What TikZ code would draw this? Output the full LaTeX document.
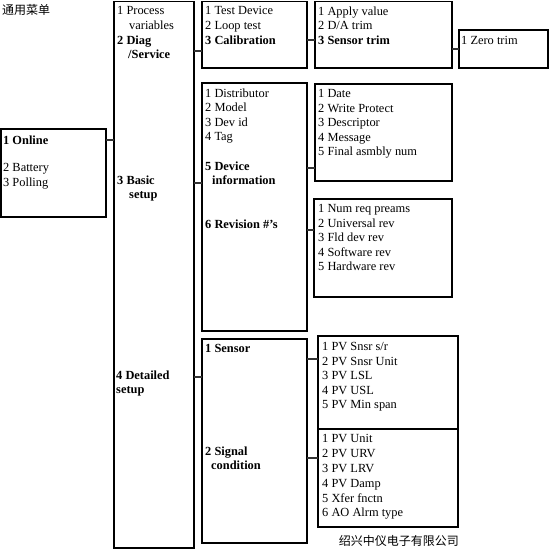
\documentclass[tikz,border=0pt]{standalone}
\usepackage{fontspec}
\setmainfont{Liberation Serif}
\newfontfamily\cjk{Noto Sans CJK SC}
\usetikzlibrary{positioning}
\tikzset{
  menubox/.style={draw=black, line width=1.9pt, anchor=north west,
                  inner sep=0pt, outer sep=0pt},
  item/.style={anchor=north west, inner sep=0pt, align=left,
               font=\fontsize{12.4}{14.5}\selectfont},
  bitem/.style={item, font=\fontsize{12.4}{14.5}\selectfont\bfseries},
  cjktxt/.style={inner sep=0pt, font=\cjk\fontsize{12}{14}\selectfont},
  link/.style={line width=2pt, black!80},
}

\begin{document}
\begin{tikzpicture}[x=1pt, y=-1pt]
    \useasboundingbox (0,0) rectangle (549,550);

    \node[cjktxt, anchor=west] (title) at (2,10) {通用菜单};
    \node[cjktxt, anchor=east] (firm) at (459,541) {绍兴中仪电子有限公司};

    % boxes
    \node[menubox, minimum width=105pt, minimum height=88pt] (onlinebox) at (0.9,129) {};
    \node[menubox, minimum width=80pt, minimum height=546.5pt] (colbox) at (114,1.5) {};
    \node[menubox, minimum width=105pt, minimum height=66.5pt] (testbox) at (202,1.5) {};
    \node[menubox, minimum width=137pt, minimum height=66.5pt] (applybox) at (315,1.5) {};
    \node[menubox, minimum width=89pt, minimum height=38pt] (zerobox) at (459,30) {};
    \node[menubox, minimum width=105pt, minimum height=248pt] (distbox) at (202,83) {};
    \node[menubox, minimum width=137pt, minimum height=97pt] (datebox) at (315,84) {};
    \node[menubox, minimum width=138pt, minimum height=98pt] (revbox) at (314,199) {};
    \node[menubox, minimum width=105pt, minimum height=204pt] (sensbox) at (202,339) {};
    \node[menubox, minimum width=140pt, minimum height=93pt] (snsrbox) at (318,336) {};
    \node[menubox, minimum width=140pt, minimum height=98pt] (unitbox) at (318,429) {};

    % texts
    \node[bitem] (onl) at (3,135.5) {1 Online};
    \node[item] (batt) at (3,163.5) {2 Battery\\3 Polling};

    \node[item] (pv) at (117,6.5) {1 Process\\\hspace*{12pt}variables};
    \node[bitem] (diag) at (117,35.5) {2 Diag\\\hspace*{11pt}/Service};
    \node[bitem] (basic) at (117,175.5) {3 Basic\\\hspace*{12pt}setup};
    \node[bitem] (detail) at (116,370.5) {4 Detailed\\setup};

    \node[item] (tst) at (205,6.5) {1 Test Device\\2 Loop test};
    \node[bitem] (calib) at (205,35.5) {3 Calibration};
    \node[item] (apv) at (318,6.5) {1 Apply value\\2 D/A trim};
    \node[bitem] (strim) at (318,35.5) {3 Sensor trim};
    \node[item] (zero) at (461,36.5) {1 Zero trim};

    \node[item] (dstr) at (205,88.5) {1 Distributor\\2 Model\\3 Dev id\\4 Tag};
    \node[bitem] (devinfo) at (205,161.5) {5 Device\\\hspace*{7pt}information};
    \node[bitem] (revs) at (205,219.5) {6 Revision \#'s};
    \node[item] (date) at (318,89.5) {1 Date\\2 Write Protect\\3 Descriptor\\4 Message\\5 Final asmbly num};
    \node[item] (numreq) at (318,204.5) {1 Num req preams\\2 Universal rev\\3 Fld dev rev\\4 Software rev\\5 Hardware rev};

    \node[bitem] (sens) at (205,344.5) {1 Sensor};
    \node[bitem] (sig) at (205,446.5) {2 Signal\\\hspace*{6pt}condition};
    \node[item] (snsr) at (322,342.5) {1 PV Snsr s/r\\2 PV Snsr Unit\\3 PV LSL\\4 PV USL\\5 PV Min span};
    \node[item, font=\fontsize{12.4}{14.8}\selectfont] (unit) at (322,434.5) {1 PV Unit\\2 PV URV\\3 PV LRV\\4 PV Damp\\5 Xfer fnctn\\6 AO Alrm type};

    % link heights
    \coordinate (jdiag) at ([yshift=-4pt]diag.center);
    \coordinate (jbasic) at ([yshift=6pt]basic.center);
    \coordinate (jdev) at ([yshift=5pt]devinfo.center);
    \coordinate (jrev) at ([yshift=-6pt]revs.center);
    \coordinate (jdetail) at ([yshift=7pt]detail.center);
    \coordinate (jsens) at ([yshift=-10pt]sens.center);

    % links
    \draw[link] (onlinebox.east |- onl) -- (colbox.west |- onl);
    \draw[link] (colbox.east |- jdiag) -- (testbox.west |- jdiag);
    \draw[link] (testbox.east |- calib) -- (applybox.west |- calib);
    \draw[link] (applybox.east |- zerobox) -- (zerobox.west);
    \draw[link] (colbox.east |- jbasic) -- (distbox.west |- jbasic);
    \draw[link] (distbox.east |- jdev) -- (datebox.west |- jdev);
    \draw[link] (distbox.east |- jrev) -- (revbox.west |- jrev);
    \draw[link] (colbox.east |- jdetail) -- (sensbox.west |- jdetail);
    \draw[link] (sensbox.east |- jsens) -- (snsrbox.west |- jsens);
    \draw[link] (sensbox.east |- sig) -- (unitbox.west |- sig);
\end{tikzpicture}
\end{document}
